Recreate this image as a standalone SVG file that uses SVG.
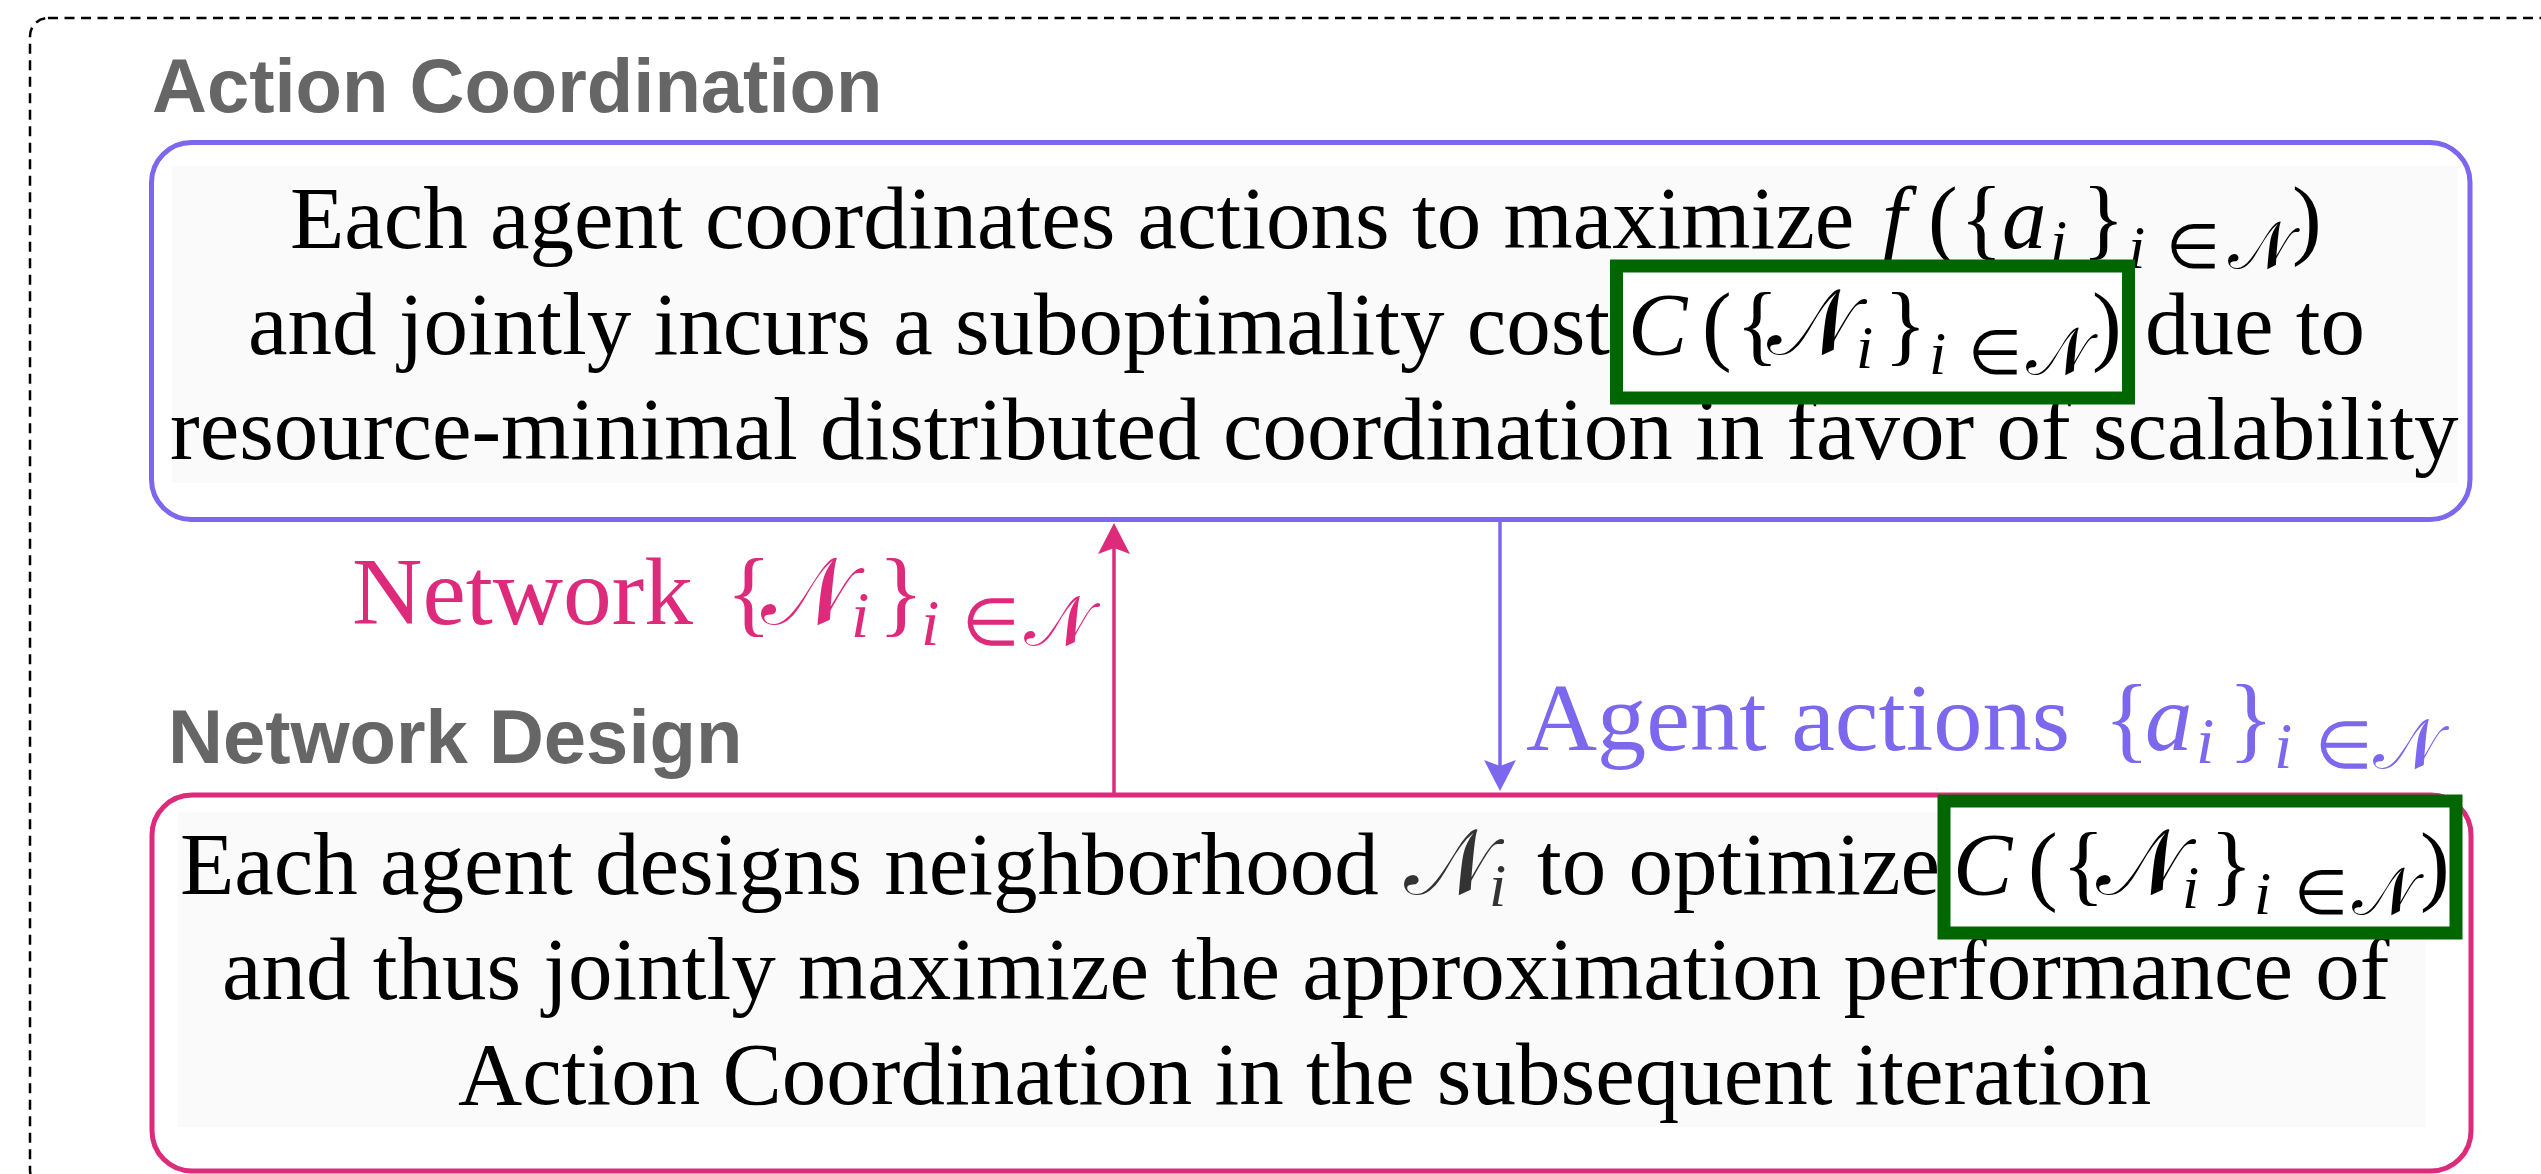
<svg xmlns="http://www.w3.org/2000/svg" width="2541" height="1174" viewBox="0 0 2541 1174">
<defs>
<style>
.frame{fill:none;stroke:#000;stroke-width:2.5;stroke-dasharray:10 6.5}
.title{font-family:"Liberation Sans",Arial,sans-serif;font-weight:bold;font-size:76px;fill:#666}
.box{fill:#fff;stroke-width:5}
.ac{stroke:#7B68EE}
.nd{stroke:#DD2A7B}
.panel{fill:#FAFAFA}
.t{font-family:"Liberation Serif","Times New Roman",serif;font-size:89px;fill:#000}
.i{font-style:italic}
.s{font-size:62px}
.cn{font-size:92px}
.cs{font-size:66px}
.hl{fill:#fff;stroke:#006600;stroke-width:13}
.lbl{font-family:"Liberation Serif","Times New Roman",serif;font-size:95px}
.ls{font-size:66px}
.cl{font-size:70px}
.pk{fill:#DD2A7B}
.pu{fill:#7B68EE}
.wire{fill:none;stroke-width:3.5}
</style>
<marker id="ahP" markerUnits="userSpaceOnUse" viewBox="0 -16 31 32" markerWidth="31" markerHeight="32" refX="6" refY="0" orient="auto"><path d="M0,-16 L31,0 L0,16 L6,0 Z" fill="#DD2A7B"/></marker>
<marker id="ahU" markerUnits="userSpaceOnUse" viewBox="0 -16 31 32" markerWidth="31" markerHeight="32" refX="6" refY="0" orient="auto"><path d="M0,-16 L31,0 L0,16 L6,0 Z" fill="#7B68EE"/></marker>
</defs>
<rect class="frame" x="30" y="18" width="2540" height="1170" rx="18"/>

<g id="action-coordination">
<text class="title" x="152" y="112">Action Coordination</text>
<rect class="box ac" x="151.5" y="142.5" width="2318.5" height="377" rx="40"/>
<rect class="panel" x="172" y="166" width="2286" height="317"/>
<text class="t" x="290" y="248">Each agent coordinates actions to maximize</text>
<text class="t"><tspan class="i" x="1882" y="248">f</tspan><tspan x="1928" y="248">(</tspan><tspan x="1960" y="248">{</tspan><tspan class="i" x="2002" y="248">a</tspan><tspan class="i s" x="2050" y="262">i</tspan><tspan x="2082" y="248">}</tspan><tspan class="i s" x="2128" y="268">i</tspan><tspan class="s" x="2166" y="268">∈</tspan><tspan class="cs" x="2228" y="268">𝒩</tspan><tspan x="2292" y="248">)</tspan></text>
<text class="t" x="248" y="354">and jointly incurs a suboptimality cost</text>
<text class="t" x="2145" y="354">due to</text>
<text class="t" x="170" y="459">resource-minimal distributed coordination in favor of scalability</text>
<rect class="hl" x="1616.5" y="266" width="512" height="132"/>
<text class="t"><tspan class="i" x="1628" y="354">C</tspan><tspan x="1702" y="354">(</tspan><tspan x="1736" y="354">{</tspan><tspan class="cn" x="1767" y="354">𝒩</tspan><tspan class="i s" x="1856" y="368">i</tspan><tspan x="1884" y="354">}</tspan><tspan class="i s" x="1929" y="374">i</tspan><tspan class="s" x="1968" y="374">∈</tspan><tspan class="cs" x="2026" y="374">𝒩</tspan><tspan x="2092" y="354">)</tspan></text>
</g>

<g id="network-design">
<text class="title" x="168" y="763">Network Design</text>
<rect class="box nd" x="152" y="795" width="2319" height="376" rx="40"/>
<rect class="panel" x="178" y="812" width="2248" height="315"/>
<text class="t" x="180" y="894">Each agent designs neighborhood</text>
<text class="t" style="fill:#333"><tspan class="cn" x="1404" y="894">𝒩</tspan><tspan class="i s" x="1489" y="906">i</tspan></text>
<text class="t" x="1537" y="894">to optimize</text>
<text class="t" x="222" y="999">and thus jointly maximize the approximation performance of</text>
<text class="t" x="458" y="1104">Action Coordination in the subsequent iteration</text>
<rect class="hl" x="1944" y="801" width="512" height="132"/>
<text class="t"><tspan class="i" x="1953" y="894">C</tspan><tspan x="2028" y="894">(</tspan><tspan x="2062" y="894">{</tspan><tspan class="cn" x="2096" y="894">𝒩</tspan><tspan class="i s" x="2182" y="908">i</tspan><tspan x="2210" y="894">}</tspan><tspan class="i s" x="2254" y="914">i</tspan><tspan class="s" x="2294" y="914">∈</tspan><tspan class="cs" x="2352" y="914">𝒩</tspan><tspan x="2420" y="894">)</tspan></text>
</g>

<g id="connectors">
<path class="wire" stroke="#DD2A7B" d="M1114,793 V548" marker-end="url(#ahP)"/>
<path class="wire" stroke="#7B68EE" d="M1500,521 V766" marker-end="url(#ahU)"/>
<text class="lbl pk"><tspan x="352" y="624" textLength="341" lengthAdjust="spacingAndGlyphs">Network</tspan><tspan x="726" y="624">{</tspan><tspan x="761" y="624">𝒩</tspan><tspan class="i ls" x="851" y="637">i</tspan><tspan x="878" y="624">}</tspan><tspan class="i ls" x="921" y="645">i</tspan><tspan class="ls" x="962" y="645">∈</tspan><tspan class="cl" x="1024" y="645">𝒩</tspan></text>
<text class="lbl pu"><tspan x="1526" y="750" textLength="544" lengthAdjust="spacingAndGlyphs">Agent actions</tspan><tspan x="2104" y="750">{</tspan><tspan class="i" x="2145" y="750">a</tspan><tspan class="i ls" x="2196" y="763">i</tspan><tspan x="2228" y="750">}</tspan><tspan class="i ls" x="2274" y="768">i</tspan><tspan class="ls" x="2315" y="768">∈</tspan><tspan class="cl" x="2373" y="768">𝒩</tspan></text>
</g>
</svg>
